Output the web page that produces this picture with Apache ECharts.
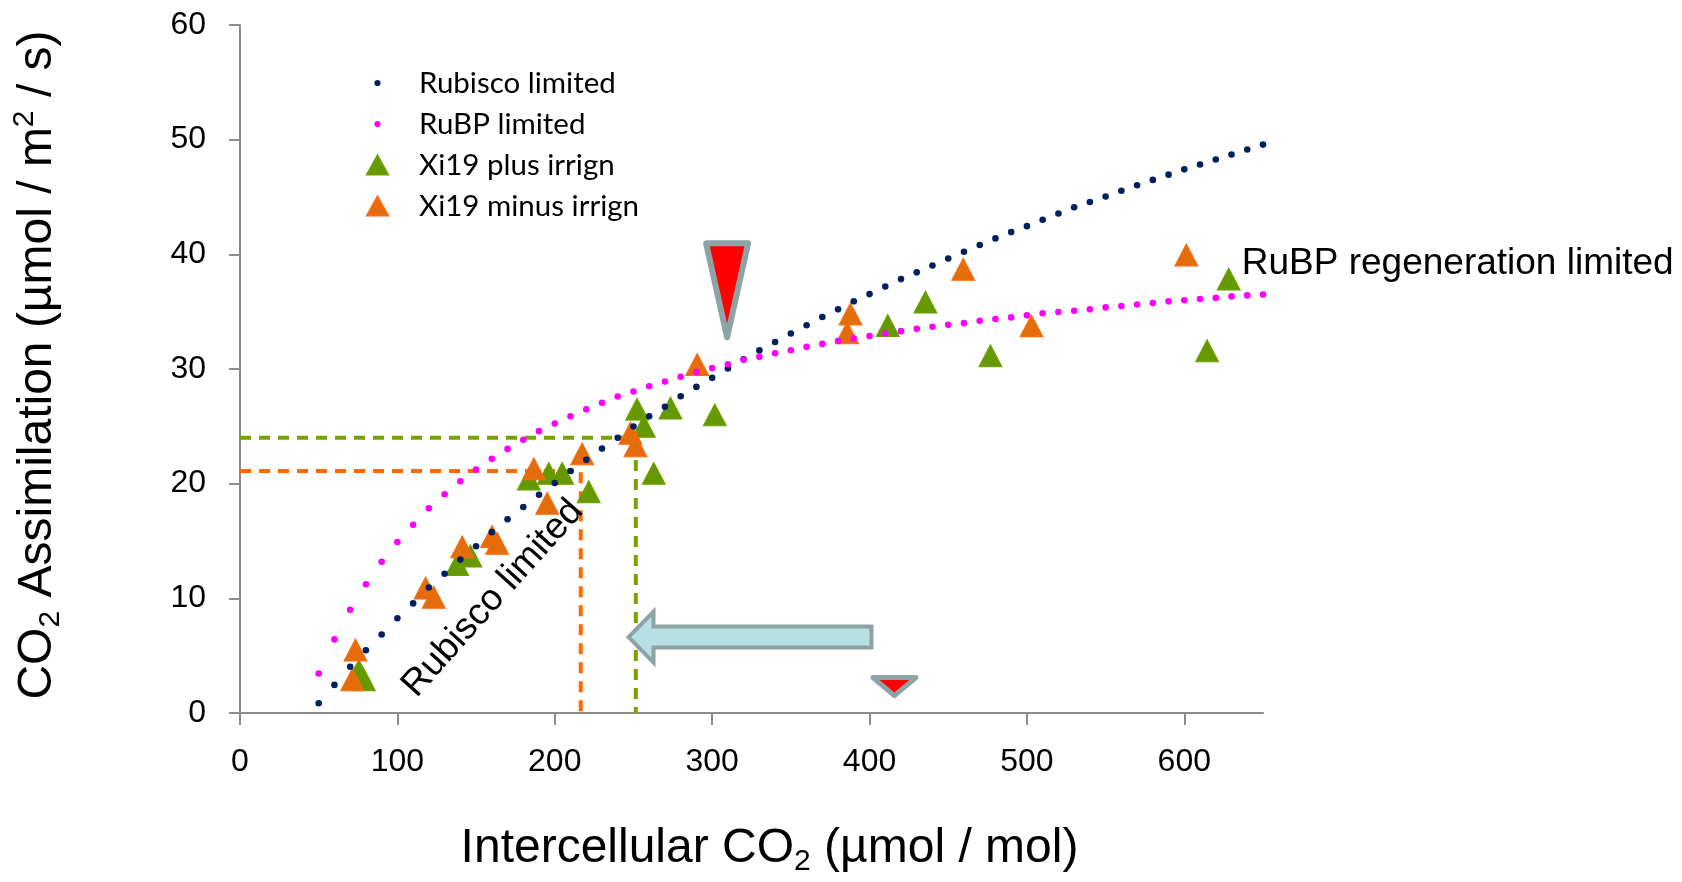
<!DOCTYPE html>
<html>
<head>
<meta charset="utf-8">
<script src="https://cdn.jsdelivr.net/npm/echarts@6/dist/echarts.min.js"></script>
<style>
html,body{margin:0;padding:0;background:#fff;}
#chart{width:1682px;height:882px;}
</style>
</head>
<body>
<div id="chart"></div>
<script>
// ---- data ----
const ciGrid = [50,60,70,80,90,100,110,120,130,140,150,160,170,180,190,200,210,220,230,240,250,260,270,280,290,300,310,320,330,340,350,360,370,380,390,400,410,420,430,440,450,460,470,480,490,500,510,520,530,540,550,560,570,580,590,600,610,620,630,640,650];
const rubiscoLimited = [0.85,2.45,4.03,5.47,6.85,8.26,9.56,10.94,12.15,13.38,14.54,15.77,16.90,17.96,19.03,20.06,21.10,22.08,23.06,24.00,24.98,25.88,26.71,27.62,28.44,29.23,30.05,30.85,31.62,32.35,33.10,33.82,34.53,35.20,35.90,36.53,37.19,37.84,38.43,39.03,39.64,40.22,40.82,41.39,41.94,42.46,43.02,43.56,44.10,44.56,45.05,45.55,46.02,46.49,46.95,47.41,47.84,48.27,48.70,49.14,49.57];
const rubpLimited = [3.45,6.42,9.01,11.23,13.18,14.91,16.41,17.85,19.08,20.21,21.24,22.17,23.03,23.83,24.58,25.24,25.88,26.48,27.06,27.60,28.04,28.50,28.90,29.33,29.73,30.08,30.42,30.80,31.06,31.38,31.64,31.93,32.19,32.44,32.67,32.88,33.10,33.30,33.50,33.68,33.85,34.00,34.20,34.36,34.50,34.68,34.86,34.97,35.08,35.20,35.37,35.50,35.63,35.75,35.90,36.00,36.10,36.20,36.33,36.42,36.50];
const xi19Plus = [[75.5,3.7],[78.7,2.9],[138,12.95],[146.4,13.7],[183.5,20.4],[196.2,20.9],[204.7,20.9],[221.6,19.3],[252.3,26.5],[256.6,25.0],[262.9,20.9],[273.5,26.6],[301.7,26.0],[411.6,33.8],[435.5,35.84],[476.8,31.15],[614.5,31.6],[628.2,37.85]];
const xi19Minus = [[71.3,2.9],[73.4,5.5],[117.9,10.9],[123.1,10.1],[141.2,14.5],[160.2,15.4],[163.4,14.8],[186.7,21.3],[195.2,18.3],[217.4,22.6],[248.1,24.4],[251.3,23.3],[290.5,30.4],[385.8,33.16],[387.9,34.8],[459.5,38.7],[502.9,33.76],[601.3,39.95]];
const xTickValues = [0,100,200,300,400,500,600];
const greenGuide = [251.5, 24.0];
const orangeGuide = [216.5, 21.1];
const redMarkers = [[309.5, 32.5], [415.8, 1.3]];
const shiftArrow = [[402.5, 6.62, 245.6]];
const noteTexts = ['RuBP regeneration limited', 'Rubisco limited'];
const notePositions = [[636.5, 39.2], [160.6, 10.0]];

// ---- build chart ----
const FONT = 'Liberation Sans, Arial, sans-serif';
const chart = echarts.init(document.getElementById('chart'), null, {renderer: 'canvas'});
const pair = (xs, ys) => xs.map((x, i) => [x, ys[i]]);
const guidePath = g => [[0, g[1]], [g[0], g[1]], [g[0], 0]];

const dotIcon = 'path://M0,0M73,0M73,20M0,20M33.4,10a3.1,3.1 0 1,0 6.2,0a3.1,3.1 0 1,0 -6.2,0Z';
const triIcon = 'path://M0,0M73,0M73,20M0,20M26,19.5L47,19.5L36.5,0.5Z';

const option = {
  animation: false,
  backgroundColor: '#fff',
  grid: {left: 240, top: 25, width: 1023, height: 695, containLabel: false},
  legend: {
    orient: 'vertical', left: 340, top: 68, padding: 0, itemWidth: 73, itemHeight: 20, itemGap: 11,
    selectedMode: false,
    textStyle: {fontFamily: 'Lato, sans-serif', fontSize: 29.5, color: '#000'},
    data: [
      {name: 'Rubisco limited', icon: dotIcon},
      {name: 'RuBP limited', icon: dotIcon},
      {name: 'Xi19 plus irrign', icon: triIcon},
      {name: 'Xi19 minus irrign', icon: triIcon}
    ]
  },
  xAxis: {
    type: 'value', min: 0, max: 650, interval: 100,
    name: 'Intercellular CO{sub|2} (µmol / mol)',
    nameLocation: 'middle', nameGap: 108,
    nameTextStyle: {fontFamily: FONT, fontSize: 48, color: '#000', lineHeight: 56, padding: [0,0,0,36],
      rich: {sub: {fontFamily: FONT, fontSize: 30, lineHeight: 30, verticalAlign: 'bottom', color: '#000'}}},
    splitLine: {show: false},
    axisLine: {show: true, onZero: false, lineStyle: {color: '#8c8c8c', width: 2}},
    axisTick: {show: true, length: 12, customValues: xTickValues, lineStyle: {color: '#8c8c8c', width: 2}},
    axisLabel: {customValues: xTickValues, margin: 33, fontFamily: FONT, fontSize: 32, color: '#000'}
  },
  yAxis: {
    type: 'value', min: 0, max: 60, interval: 10,
    name: 'CO{sub|2} Assimilation (µmol / m{sup|2} / s)',
    nameLocation: 'middle', nameGap: 174, nameRotate: 90,
    nameTextStyle: {fontFamily: FONT, fontSize: 48, color: '#000', lineHeight: 56, padding: [0,0,0,8],
      rich: {
        sub: {fontFamily: FONT, fontSize: 30, lineHeight: 30, verticalAlign: 'bottom', color: '#000'},
        sup: {fontFamily: FONT, fontSize: 30, lineHeight: 30, verticalAlign: 'top', color: '#000'}
      }},
    splitLine: {show: false},
    axisLine: {show: true, onZero: false, lineStyle: {color: '#8c8c8c', width: 2}},
    axisTick: {show: true, length: 11, lineStyle: {color: '#8c8c8c', width: 2}},
    axisLabel: {margin: 34, fontFamily: FONT, fontSize: 32, color: '#000'}
  },
  series: [
    {
      name: 'green guide', type: 'line', data: guidePath(greenGuide), showSymbol: false, silent: true, z: 1,
      lineStyle: {color: '#77a300', width: 4, type: [11, 8]}
    },
    {
      name: 'orange guide', type: 'line', data: guidePath(orangeGuide), showSymbol: false, silent: true, z: 1,
      lineStyle: {color: '#ff6a00', width: 4, type: [11, 8]}
    },
    {
      name: 'Xi19 plus irrign', type: 'scatter', data: xi19Plus, symbol: 'triangle', symbolSize: [23, 22], z: 2,
      itemStyle: {color: '#669900', borderColor: '#6fa000', borderWidth: 1, opacity: 1}
    },
    {
      name: 'Xi19 minus irrign', type: 'scatter', data: xi19Minus, symbol: 'triangle', symbolSize: [23, 22], z: 3,
      itemStyle: {color: '#e46c0a', borderColor: '#ff6a10', borderWidth: 1, opacity: 1}
    },
    {
      name: 'Rubisco limited', type: 'scatter', data: pair(ciGrid, rubiscoLimited), symbol: 'circle', symbolSize: 6.6, z: 4,
      itemStyle: {color: '#002060', opacity: 1}
    },
    {
      name: 'RuBP limited', type: 'scatter', data: pair(ciGrid, rubpLimited), symbol: 'circle', symbolSize: 6.6, z: 4,
      itemStyle: {color: '#ff00ff', opacity: 1}
    },
    {
      name: 'markers', type: 'custom', data: redMarkers, z: 5, silent: true,
      renderItem: function (params, api) {
        const p = api.coord([api.value(0), api.value(1)]);
        const big = params.dataIndex === 0;
        const w = big ? 21 : 21.5, h = big ? 94 : 18;
        const inset = big ? 3 : 2.5;
        return {
          type: 'polygon',
          shape: {points: [[p[0] - w, p[1] - inset - h], [p[0] + w, p[1] - inset - h], [p[0], p[1] - inset]]},
          style: {fill: '#ff0000', stroke: '#8ea3a6', lineWidth: big ? 6 : 5, lineJoin: 'round'}
        };
      }
    },
    {
      name: 'arrow', type: 'custom', data: shiftArrow, z: 5, silent: true,
      renderItem: function (params, api) {
        const tail = api.coord([api.value(0), api.value(1)]);
        const tip = api.coord([api.value(2), api.value(1)]);
        const cy = tip[1], tx = tip[0] + 2, ex = tail[0] - 2;
        return {
          type: 'polygon',
          shape: {points: [[tx, cy], [tx + 25, cy - 25.5], [tx + 25, cy - 10.5], [ex, cy - 10.5], [ex, cy + 10.5], [tx + 25, cy + 10.5], [tx + 25, cy + 25.5]]},
          style: {fill: '#b8dfe3', stroke: '#8ea3a6', lineWidth: 4, lineJoin: 'miter'}
        };
      }
    },
    {
      name: 'notes', type: 'custom', data: notePositions, z: 6, silent: true,
      renderItem: function (params, api) {
        const p = api.coord([api.value(0), api.value(1)]);
        const i = params.dataIndex;
        return {
          type: 'text', x: p[0], y: p[1], rotation: i === 1 ? 48 * Math.PI / 180 : 0,
          style: {text: noteTexts[i], font: '37px ' + FONT, fill: '#000',
            align: i === 1 ? 'center' : 'left', verticalAlign: 'middle'}
        };
      }
    }
  ]
};
chart.setOption(option);
</script>
</body>
</html>
